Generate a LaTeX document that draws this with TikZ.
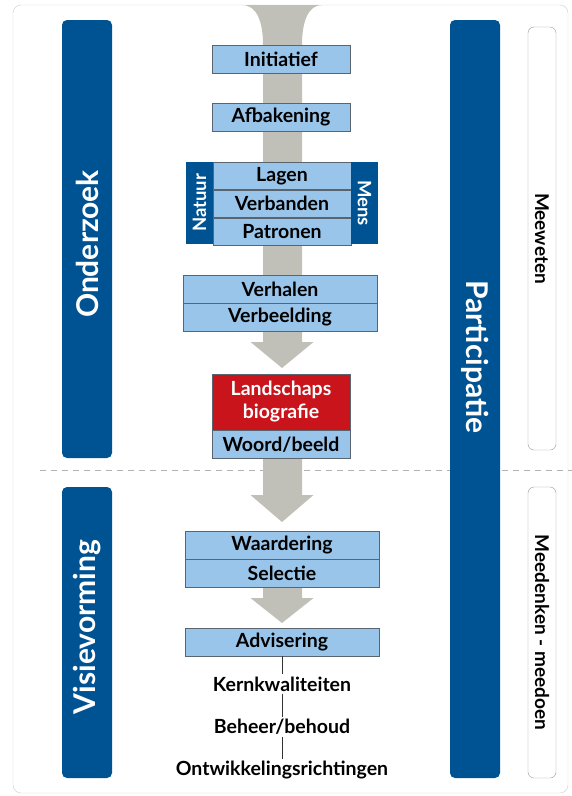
\documentclass[tikz,border=0pt]{standalone}
\usepackage{fontspec}
\setmainfont{Lato}
\usetikzlibrary{positioning, fit, shapes}

\definecolor{darkblue}{RGB}{0,83,147}
\definecolor{lightblue}{RGB}{153,197,234}
\definecolor{biored}{RGB}{200,20,26}
\definecolor{flowgray}{RGB}{192,192,184}
\definecolor{framegray}{RGB}{205,205,205}
\definecolor{edgegray}{RGB}{90,100,110}

\begin{document}
\begin{tikzpicture}[x=1pt, y=-1pt,
	phase/.style={rectangle, rounded corners=5pt, fill=darkblue, inner sep=0pt, minimum height=50pt},
	phasetext/.style={text=white, font=\fontsize{30}{32}\selectfont\bfseries},
	level/.style={rectangle, rounded corners=6pt, draw=gray!80, fill=white, inner sep=0pt, minimum height=28pt, font=\fontsize{19}{21}\selectfont\bfseries},
	stepbox/.style={rectangle, draw=edgegray, fill=lightblue, inner sep=0pt, minimum width=138pt, minimum height=28pt, font=\fontsize{19.5}{21}\selectfont\bfseries},
	widebox/.style={stepbox, minimum width=194pt},
	rowbox/.style={stepbox, minimum height=27.5pt},
	sidebar/.style={rectangle, fill=darkblue, inner sep=0pt, minimum width=82.5pt, minimum height=27pt, text=white, font=\fontsize{18.5}{20}\selectfont\bfseries},
	result/.style={inner sep=2pt, font=\fontsize{19.5}{21}\selectfont\bfseries}
]
\useasboundingbox (0,0) rectangle (572,796);

% frame and split line
\draw[framegray, rounded corners=8pt] (13,5) rectangle (568,793);
\draw[gray!60, line width=1pt, dash pattern=on 6pt off 5pt] (40,470) -- (572,470);

% grey flow
\fill[flowgray] (242,5) .. controls (257,5) and (263,22) .. (263,45) -- (263,342) -- (250.5,342) -- (282,368)
	-- (313.5,342) -- (302,342) -- (302,45) .. controls (302,22) and (308,5) .. (322,5) -- cycle;
\fill[flowgray] (263,458) -- (263,495) -- (250.5,495) -- (282,522) -- (313.5,495) -- (302,495) -- (302,458) -- cycle;
\fill[flowgray] (263,587) -- (263,598) -- (250.5,598) -- (282,623) -- (313.5,598) -- (302,598) -- (302,587) -- cycle;

% phases
\node[phase, rotate=90, minimum width=438pt] (onderzoek) at (87,239) {};
\node[phasetext, rotate=90] (onderzoektext) at (87,244) {Onderzoek};
\node[phase, rotate=90, minimum width=291pt] (visie) at (87,632.5) {};
\node[phasetext, rotate=90] (visietext) at (87,627) {Visievorming};
\node[phase, rotate=-90, minimum width=758pt] (participatie) at (475,399) {};
\node[phasetext, rotate=-90] (participatietext) at (475,357) {Participatie};

\node[level, rotate=-90, minimum width=423pt] (meeweten) at (542,238.5) {Meeweten};
\node[level, rotate=-90, minimum width=291pt] (meedenken) at (542,632.5) {Meedenken - meedoen};

% steps
\node[stepbox] (initiatief) at (281,59) {Initiatief};
\node[stepbox] (afbakening) at (281,117) {Afbakening};

\node[rowbox] (lagen) at (282,175.75) {Lagen};
\node[rowbox, below=0pt of lagen] (verbanden) {Verbanden};
\node[rowbox, below=0pt of verbanden] (patronen) {Patronen};
\node[sidebar, rotate=90] (natuur) at (199.5,203) {Natuur};
\node[sidebar, rotate=-90] (mens) at (364.5,203) {Mens};

\node[widebox] (verhalen) at (280,289) {Verhalen};
\node[widebox, below=0pt of verhalen] (verbeelding) {Verbeelding};

\node[stepbox, fill=biored, text=white, minimum height=56pt, align=center, font=\fontsize{19.5}{23}\selectfont\bfseries] (biografie) at (281,402) {Landschaps\\biografie};
\node[stepbox, below=0pt of biografie] (woord) {Woord/beeld};

\node[widebox] (waardering) at (282,545) {Waardering};
\node[widebox, below=0pt of waardering] (selectie) {Selectie};

\node[widebox] (advisering) at (282,642) {Advisering};
\node[result] (kern) at (282,684) {Kernkwaliteiten};
\node[result] (beheer) at (282,727) {Beheer/behoud};
\node[result] (ontwikkeling) at (282,770) {Ontwikkelingsrichtingen};

\draw[line width=1pt, black!80] (advisering) -- (kern);
\draw[line width=1pt, black!80] (kern) -- (beheer);
\draw[line width=1pt, black!80] (beheer) -- (ontwikkeling);

\end{tikzpicture}
\end{document}
